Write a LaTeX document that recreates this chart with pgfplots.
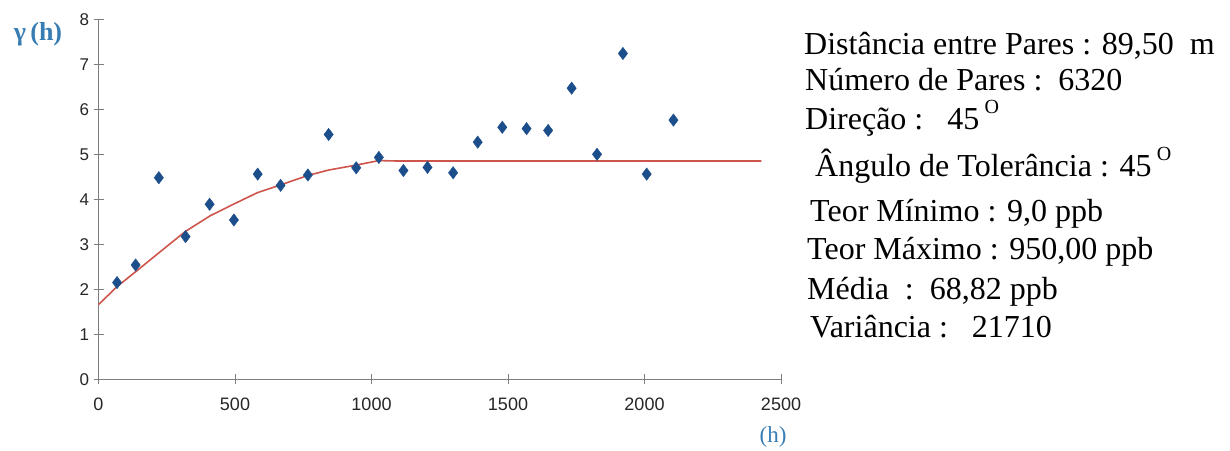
\documentclass[border=0pt]{standalone}
\usepackage{pgfplots}
\pgfplotsset{compat=1.18}
\usepackage{fontspec}
\setmainfont{Liberation Serif}
\newfontfamily\arialf{Liberation Sans}
\definecolor{ptblue}{RGB}{28,78,140}
\definecolor{fitred}{RGB}{205,85,75}
\definecolor{lblblue}{RGB}{55,125,180}
\definecolor{axgray}{RGB}{125,125,125}
\pgfplotstableread{
x y
68 2.15
136 2.54
221 4.48
319 3.17
407 3.89
496 3.54
583 4.56
667 4.31
767 4.54
843 5.44
944 4.70
1027 4.93
1117 4.64
1205 4.71
1299 4.59
1389 5.27
1479 5.60
1568 5.57
1647 5.53
1733 6.47
1826 5.00
1921 7.24
2008 4.56
2106 5.76
}\pts
\pgfplotstableread{
x y
0 1.66
68 2.06
136 2.39
219 2.80
317 3.28
408 3.63
494 3.89
583 4.15
667 4.32
767 4.53
843 4.65
944 4.76
1027 4.86
1100 4.85
2428 4.85
}\model
\begin{document}
\begin{tikzpicture}[x=1bp,y=1bp]
\path[use as bounding box] (0,0) rectangle (1230,451);
\begin{axis}[at={(98.5bp,71.7bp)}, anchor=south west,
  width=682.5bp, height=360bp, scale only axis,
  xmin=0, xmax=2500, ymin=0, ymax=8,
  axis lines=left,
  axis line style={-, axgray, line width=0.8bp},
  xtick={0,500,...,2500}, ytick={0,1,...,8},
  tick align=center, major tick length=10bp,
  tick style={axgray, line width=0.8bp},
  xticklabel style={font=\arialf\fontsize{18bp}{18bp}\selectfont, text=black!85, yshift=-10bp},
  yticklabel style={font=\arialf\fontsize{17bp}{17bp}\selectfont, text=black!85, xshift=-1bp},
  /pgf/number format/assume math mode=true,
  /pgf/number format/set thousands separator={},
  clip=false]
\addplot[fitred, line width=1.6bp, no marks] table {\model};
\addplot[only marks, mark=diamond*, mark size=6.2bp, ptblue, mark options={draw=ptblue, fill=ptblue}] table {\pts};
\end{axis}
\node[anchor=base, text=lblblue, font=\fontsize{26bp}{26bp}\selectfont\bfseries] at (38,410) {γ\,(h)};
\node[anchor=base, text=lblblue, font=\fontsize{23bp}{23bp}\selectfont] at (773,8) {(h)};
\begin{scope}[every node/.style={anchor=base west, inner sep=0pt, font=\fontsize{32bp}{32bp}\selectfont}]
\node at (804,396) {Distância entre Pares : 89,50\ \ m};
\node at (805,360) {Número de Pares :\ \ 6320};
\node at (805,321) {Direção :\ \ \ 45\,\raisebox{0.5em}{\fontsize{20bp}{20bp}\selectfont O}};
\node at (815,274) {Ângulo de Tolerância : 45\,\raisebox{0.5em}{\fontsize{20bp}{20bp}\selectfont O}};
\node at (810,229) {Teor Mínimo : 9,0 ppb};
\node at (807,191) {Teor Máximo : 950,00 ppb};
\node at (807,151) {Média\ \ :\ \ 68,82 ppb};
\node at (810,113) {Variância :\ \ \ 21710};
\end{scope}
\end{tikzpicture}
\end{document}
